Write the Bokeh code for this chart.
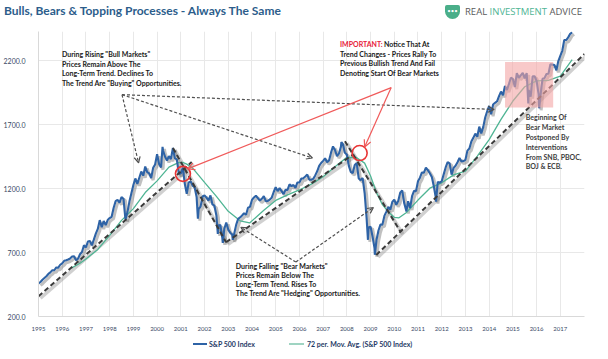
from bokeh.plotting import figure
from bokeh.layouts import column
from bokeh.models import (Range1d, FixedTicker, NumeralTickFormatter,
                          Arrow, OpenHead, ColumnDataSource, Div)
from bokeh.core.properties import value
from bokeh.embed import file_html
from bokeh.resources import INLINE

# ---------------- data ----------------
# S&P 500 month-end closes, first value = close at start of 1995
sp500_month_end = [
    459,
    470, 487, 501, 515, 533, 545, 562, 562, 584, 582, 605, 616,          # 1995
    636, 640, 646, 654, 669, 671, 640, 652, 687, 705, 757, 741,          # 1996
    786, 791, 757, 801, 848, 885, 954, 899, 947, 915, 955, 970,          # 1997
    980, 1049, 1102, 1112, 1091, 1134, 1121, 957, 1017, 1099, 1164, 1229,  # 1998
    1280, 1238, 1286, 1335, 1302, 1373, 1329, 1320, 1283, 1363, 1389, 1469,  # 1999
    1394, 1366, 1499, 1452, 1421, 1455, 1431, 1518, 1437, 1429, 1315, 1320,  # 2000
    1366, 1240, 1160, 1249, 1256, 1224, 1211, 1134, 1041, 1060, 1139, 1148,  # 2001
    1130, 1107, 1147, 1077, 1067, 990, 912, 916, 815, 886, 936, 880,        # 2002
    856, 841, 848, 917, 964, 975, 990, 1008, 996, 1051, 1058, 1112,         # 2003
    1131, 1145, 1126, 1107, 1121, 1141, 1102, 1104, 1115, 1130, 1174, 1212,  # 2004
    1181, 1204, 1181, 1157, 1192, 1191, 1234, 1220, 1229, 1207, 1249, 1248,  # 2005
    1280, 1281, 1295, 1311, 1270, 1270, 1277, 1304, 1336, 1378, 1401, 1418,  # 2006
    1438, 1407, 1421, 1482, 1531, 1503, 1455, 1474, 1527, 1549, 1481, 1468,  # 2007
    1379, 1331, 1323, 1386, 1400, 1280, 1267, 1283, 1166, 969, 896, 903,    # 2008
    826, 735, 798, 873, 919, 919, 987, 1021, 1057, 1036, 1096, 1115,        # 2009
    1074, 1104, 1169, 1187, 1089, 1031, 1102, 1049, 1141, 1183, 1181, 1258,  # 2010
    1286, 1327, 1326, 1364, 1345, 1321, 1292, 1219, 1131, 1253, 1247, 1258,  # 2011
    1312, 1366, 1408, 1398, 1310, 1362, 1379, 1407, 1441, 1412, 1416, 1426,  # 2012
    1498, 1515, 1569, 1598, 1631, 1606, 1686, 1633, 1682, 1757, 1806, 1848,  # 2013
    1783, 1859, 1872, 1884, 1924, 1960, 1931, 2003, 1972, 2018, 2068, 2059,  # 2014
    1995, 2105, 2068, 2086, 2107, 2063, 2104, 1972, 1920, 2079, 2080, 2044,  # 2015
    1940, 1932, 2060, 2065, 2097, 2099, 2174, 2171, 2168, 2126, 2199, 2239,  # 2016
    2279, 2364, 2363, 2384, 2412, 2423,                                     # 2017
]
sp500_first_year = 1995
# intra-month extremes visible in the picture
sp500_extreme_dates = [2000.23, 2001.72, 2002.56, 2002.77, 2003.19, 2007.77,
                       2008.89, 2009.18, 2010.51, 2011.76, 2015.65, 2016.11]
sp500_extreme_values = [1527, 966, 847, 776, 800, 1565,
                        800, 683, 1022, 1099, 1867, 1829]

# 72-period moving average
ma_dates = [1996.4, 1996.75, 1997.0, 1997.5, 1998.0, 1998.5, 1999.0, 1999.5, 2000.0,
            2000.5, 2000.9, 2001.1, 2001.25, 2001.5, 2002.0, 2002.5, 2003.0, 2003.5,
            2003.9, 2004.5, 2005.0, 2005.5, 2006.0, 2006.5, 2007.0, 2007.5, 2008.0,
            2008.4, 2008.75, 2009.0, 2009.25, 2009.5, 2009.75, 2010.0, 2010.2, 2010.5,
            2011.0, 2011.5, 2012.0, 2012.5, 2013.0, 2013.5, 2014.0, 2014.5, 2015.0,
            2015.5, 2016.0, 2016.5, 2017.0, 2017.5]
ma_values = [580, 617, 650, 725, 835, 952, 1044, 1170, 1261,
             1369, 1404, 1405, 1392, 1361, 1250, 1140, 1023, 949,
             932, 1031, 1108, 1152, 1190, 1236, 1293, 1372, 1445,
             1444, 1400, 1299, 1170, 1075, 1018, 976, 972, 1012,
             1111, 1204, 1246, 1308, 1338, 1455, 1584, 1742, 1886,
             1998, 2044, 2048, 2080, 2209]

# long-term trend lines (start / end)
trend_x0 = [1995.0, 2000.67, 2002.91, 2007.92, 2009.24]
trend_y0 = [358, 1518, 781, 1572, 681]
trend_x1 = [2001.46, 2002.91, 2008.29, 2010.28, 2018.02]
trend_y1 = [1409, 781, 1471, 859, 2254]

# grey annotation arrows
note_x0 = [1998.52, 1998.52, 1998.52, 2005.85, 2005.85]
note_y0 = [1936, 1936, 1936, 626, 626]
note_x1 = [1999.22, 2014.21, 2006.55, 2003.53, 2009.12]
note_y1 = [1402, 1820, 1440, 898, 1053]

# red arrows and circles
red_x0 = [2009.87, 2009.87]
red_y0 = [1991, 1991]
red_x1 = [2001.29, 2008.75]
red_y1 = [1355, 1526]
circle_x = [2001.09, 2008.54]
circle_y = [1316, 1479]

# highlighted box
box_left, box_right, box_bottom, box_top = [2014.67], [2016.70], [1836], [2192]

year_ticks = list(range(1995, 2018))
value_ticks = [200, 700, 1200, 1700, 2200]

title_text = "Bulls, Bears &amp; Topping Processes - Always The Same"
series_names = ["S&amp;P 500 Index", "72 per. Mov. Avg. (S&amp;P 500 Index)"]
bull_text = ['During Rising "Bull Markets"', 'Prices Remain Above The',
             'Long-Term Trend. Declines To', 'The Trend Are "Buying" Opportunities.']
bull_x, bull_y = 1995.99, [2252, 2176, 2102, 2026]
bear_text = ['During Falling "Bear Markets"', 'Prices Remain Below The',
             'Long-Term Trend. Rises To', 'The Trend Are "Hedging" Opportunities.']
bear_x, bear_y = 2003.32, [598, 526, 454, 380]
imp_text = ['Notice That At', 'Trend Changes - Prices Rally To',
            'Previous Bullish Trend And Fail', 'Denoting Start Of Bear Markets']
imp_x, imp_y = [2009.57, 2007.71, 2007.71, 2007.71], [2334, 2257, 2183, 2109]
beg_text = ['Beginning Of', 'Bear Market', 'Postponed By', 'Interventions',
            'From SNB, PBOC,', 'BOJ & ECB.']
beg_x, beg_y = 2015.54, [1758, 1681, 1604, 1528, 1451, 1374]

# ---------------- build ----------------
SP_COLOR, MA_COLOR = "#2e63a6", "#4fb594"
X0, X1 = 1995.0, 2018.02
Y0, Y1 = 200.0, 2430.0
W, HEAD, FOOT = 592, 21, 20
H = 343 - HEAD - FOOT
BL, BR, BT, BB = 28, 8, 0, 14
dx = (X1 - X0) / (W - BL - BR)
dy = (Y1 - Y0) / (H - BT - BB)

sp_x = [sp500_first_year + i / 12 for i in range(len(sp500_month_end))]
pts = sorted(list(zip(sp_x, sp500_month_end)) + list(zip(sp500_extreme_dates, sp500_extreme_values)))
sp_src = ColumnDataSource(dict(x=[a for a, b in pts], y=[b for a, b in pts]))

p = figure(width=W, height=H, x_range=Range1d(X0, X1), y_range=Range1d(Y0, Y1),
           output_backend="svg", toolbar_location=None,
           min_border_left=BL, min_border_right=BR, min_border_top=BT, min_border_bottom=BB)
p.outline_line_color = None
p.extra_x_ranges = {"sh": Range1d(X0 - 2 * dx, X1 - 2 * dx)}
p.extra_y_ranges = {"sh": Range1d(Y0 + 2 * dy, Y1 + 2 * dy)}

p.xaxis.ticker = FixedTicker(ticks=year_ticks)
p.xgrid.ticker = FixedTicker(ticks=year_ticks)
p.yaxis.ticker = FixedTicker(ticks=value_ticks)
p.ygrid.ticker = FixedTicker(ticks=value_ticks)
p.xaxis.formatter = NumeralTickFormatter(format="0")
p.yaxis.formatter = NumeralTickFormatter(format="0.0")
for ax in (p.xaxis[0], p.yaxis[0]):
    ax.major_tick_line_color = None
    ax.minor_tick_line_color = None
    ax.axis_line_color = "#d9d9d9"
    ax.major_label_text_font = "Lato"
    ax.major_label_text_color = "#3b4a66"
p.xaxis.major_label_text_font_size = "6px"
p.yaxis.major_label_text_font_size = "7px"
p.xaxis.major_label_standoff = 4
p.yaxis.major_label_standoff = 7
p.xgrid.grid_line_color = "#e8e8e8"
p.ygrid.grid_line_color = "#e8e8e8"

# trend line shadows + S&P shadow
p.segment(trend_x0, trend_y0, trend_x1, trend_y1, line_color="#8a8a8a", line_alpha=0.4,
          line_width=3.5, x_range_name="sh", y_range_name="sh")
p.line("x", "y", source=sp_src, line_color="#303030", line_alpha=0.3, line_width=3,
       x_range_name="sh", y_range_name="sh")

p.line(ma_dates, ma_values, line_color=MA_COLOR, line_width=1.3)
p.line("x", "y", source=sp_src, line_color=SP_COLOR, line_width=2.1)

p.segment(trend_x0, trend_y0, trend_x1, trend_y1, line_color="#3a3a3a", line_width=2,
          line_dash="5 3")

p.quad(left=box_left, right=box_right, bottom=box_bottom, top=box_top,
       fill_color="#f3a5a5", fill_alpha=0.6, line_color=None)

p.add_layout(Arrow(source=ColumnDataSource(dict(x0=note_x0, y0=note_y0, x1=note_x1, y1=note_y1)),
                   x_start="x0", y_start="y0", x_end="x1", y_end="y1",
                   line_color="#505050", line_width=1.2, line_dash="3 2",
                   end=OpenHead(size=6, line_color="#505050", line_width=1.2)))
p.add_layout(Arrow(source=ColumnDataSource(dict(x0=red_x0, y0=red_y0, x1=red_x1, y1=red_y1)),
                   x_start="x0", y_start="y0", x_end="x1", y_end="y1",
                   line_color="#f05a5a", line_width=1.2,
                   end=OpenHead(size=7, line_color="#f05a5a", line_width=1.2)))
p.scatter(circle_x, circle_y, marker="circle", size=15, fill_color=None,
          line_color="#e83535", line_width=1.6)

txt = dict(text_font=value("Lato"), text_font_style="bold", text_font_size="7px",
           text_baseline="middle", text_align="left")
p.text([bull_x] * 4, bull_y, text=bull_text, text_color="#1a1a1a", **txt)
p.text([bear_x] * 4, bear_y, text=bear_text, text_color="#1a1a1a", **txt)
p.text(imp_x, imp_y, text=imp_text, text_color="#1a1a1a", **txt)
p.text([imp_x[1]], [imp_y[0]], text=["IMPORTANT:"], text_color="#e8203a", **txt)
p.text([beg_x] * 6, beg_y, text=beg_text, text_color="#404040", **txt)

header = Div(width=W, height=HEAD, text=f'''
<div style="position:relative;width:{W}px;height:{HEAD}px;font-family:Lato,sans-serif;">
 <span style="position:absolute;left:-1px;top:0px;font-size:12px;line-height:12px;font-weight:bold;
   color:#2c5d8b;white-space:nowrap;">{title_text}</span>
 <span style="position:absolute;left:440px;top:0px;width:15px;height:14px;background:#4aae89;
   border-radius:2px 2px 8px 8px;color:white;font-size:6px;line-height:12px;text-align:center;">&#8226;&#8226;&#8226;</span>
 <span style="position:absolute;left:460px;top:1px;font-family:'Open Sans',sans-serif;font-size:9.5px;
   line-height:12px;white-space:nowrap;color:#5a5a5a;">REAL <span style="color:{MA_COLOR};">INVESTMENT</span> ADVICE</span>
</div>''')

footer = Div(width=W, height=FOOT, text=f'''
<div style="position:relative;width:{W}px;height:{FOOT}px;font-family:Lato,sans-serif;font-weight:bold;
  font-size:7px;color:#1f3a66;">
 <span style="position:absolute;left:188px;top:5px;width:14px;height:2px;background:{SP_COLOR};"></span>
 <span style="position:absolute;left:204px;top:1px;line-height:10px;white-space:nowrap;">{series_names[0]}</span>
 <span style="position:absolute;left:284px;top:5px;width:15px;height:2px;background:#9fd4c2;"></span>
 <span style="position:absolute;left:302px;top:1px;line-height:10px;white-space:nowrap;">{series_names[1]}</span>
</div>''')

open("out.html", "w").write(file_html(column(header, p, footer), INLINE))
